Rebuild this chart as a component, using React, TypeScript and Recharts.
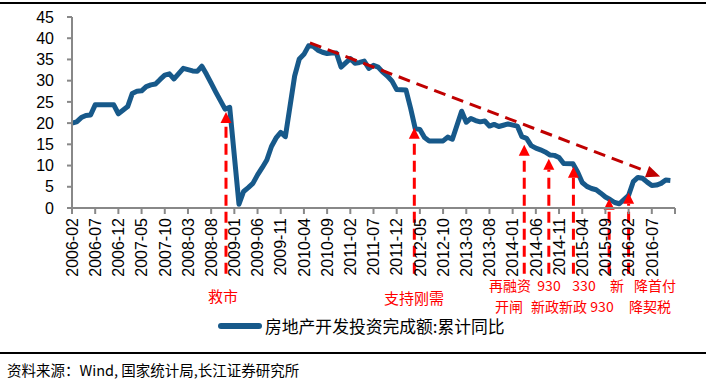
import React from "react";
import { LineChart, Line, XAxis, YAxis, ReferenceLine, Legend } from "recharts";

// monthly categories 2006-02 .. 2016-12 (index = position on the x axis)
const months: string[] = [];
for (let k = 0; k <= 130; k++) {
  const m = 1 + k;
  months.push(`${2006 + Math.floor(m / 12)}-${String((m % 12) + 1).padStart(2, "0")}`);
}

// 房地产开发投资完成额:累计同比 (%), January has no release -> null
const growth: (number | null)[] = [
  // 2006-02 .. 2006-12
  20.0, 20.3, 21.3, 21.8, 21.9, 24.3, 24.3, 24.3, 24.3, 24.3, 22.2,
  // 2007
  null, 23.9, 27.0, 27.5, 27.6, 28.6, 29.0, 29.2, 30.3, 31.3, 31.6, 30.4,
  // 2008
  null, 32.9, 32.6, 32.3, 32.2, 33.4, 31.5, 29.4, 27.3, 25.3, 23.3, 23.7,
  // 2009
  null, 0.9, 3.9, 4.8, 5.8, 7.8, 9.5, 11.3, 14.5, 16.5, 17.8, 16.8,
  // 2010
  null, 31.1, 35.1, 36.2, 38.2, 38.1, 37.2, 36.7, 36.4, 36.5, 36.5, 33.2,
  // 2011
  null, 35.2, 34.1, 34.3, 34.6, 32.9, 33.6, 33.2, 32.0, 31.1, 29.9, 27.9,
  // 2012
  null, 27.8, 23.5, 18.7, 18.5, 16.6, 15.8, 15.8, 15.8, 15.8, 16.7, 16.2,
  // 2013
  null, 22.8, 20.2, 21.1, 20.6, 20.3, 20.5, 19.3, 19.7, 19.2, 19.5, 19.8,
  // 2014
  null, 19.3, 16.8, 16.4, 14.7, 14.1, 13.7, 13.2, 12.5, 12.4, 11.9, 10.5,
  // 2015
  null, 10.4, 8.5, 6.0, 5.1, 4.6, 4.3, 3.5, 2.6, 2.0, 1.3, 1.0,
  // 2016-01 .. 2016-11
  null, 3.0, 6.2, 7.2, 7.0, 6.1, 5.3, 5.4, 5.8, 6.6, 6.5,
];

const xTicks = [0, 5, 10, 15, 20, 25, 30, 35, 40, 45, 50, 55, 60, 65, 70, 75, 80, 85, 90, 95, 100, 105, 110, 115, 120, 125, 130];
const yTicks = [0, 5, 10, 15, 20, 25, 30, 35, 40, 45];

// policy arrows: x index, value at arrow tip
const policyX = [33.2, 73.8, 97.5, 102.8, 108.1, 115.8, 120.0];
const policyTip = [22.6, 18.9, 14.9, 11.6, 9.7, 2.2, 3.6];

// downward trend arrow
const trendFrom = { x: 51.3, y: 38.9 };
const trendTo = { x: 126.8, y: 7.4 };

const notes = [
  { text: "救市", x: 223, y: 295, size: 15 },
  { text: "支持刚需", x: 414, y: 297, size: 15 },
  { text: "再融资", x: 510, y: 285, size: 14 },
  { text: "开闸", x: 509, y: 305.5, size: 14 },
  { text: "930", x: 549, y: 285, size: 14 },
  { text: "新政", x: 545, y: 305.5, size: 14 },
  { text: "330", x: 584, y: 285, size: 14 },
  { text: "新政", x: 573, y: 305.5, size: 14 },
  { text: "新", x: 617, y: 285, size: 14 },
  { text: "930", x: 602, y: 305.5, size: 14 },
  { text: "降首付", x: 655, y: 285, size: 14 },
  { text: "降契税", x: 650, y: 305.5, size: 14 },
];

const data = growth.map((v, i) => ({ i, v }));

const BLUE = "#17598A";

const arrow = (color: string, w: number, len: number, dash: string) => (props: any) => {
  const { x1, y1, x2, y2 } = props;
  const dx = x2 - x1;
  const dy = y2 - y1;
  const L = Math.hypot(dx, dy) || 1;
  const ux = dx / L;
  const uy = dy / L;
  const bx = x2 - ux * len;
  const by = y2 - uy * len;
  const px = (-uy * w) / 2;
  const py = (ux * w) / 2;
  return (
    <g>
      <line x1={x1} y1={y1} x2={bx} y2={by} stroke={color} strokeWidth={3} strokeDasharray={dash} />
      <polygon points={`${x2},${y2} ${bx + px},${by + py} ${bx - px},${by - py}`} fill={color} />
    </g>
  );
};

const XTick = ({ x, y, payload }: any) => (
  <text
    x={x}
    y={y}
    transform={`rotate(-90, ${x}, ${y})`}
    textAnchor="end"
    dy="0.36em"
    fontSize={16}
    fill="#000"
  >
    {payload.value < 130 ? months[payload.value] : ""}
  </text>
);

const LegendBox = () => (
  <div style={{ display: "flex", alignItems: "center", marginLeft: 218 }}>
    <div style={{ width: 44, height: 6, borderRadius: 3, background: BLUE, marginRight: 3 }} />
    <span style={{ fontSize: 16.8, color: "#000", fontFamily: '"Noto Sans CJK SC", sans-serif' }}>
      房地产开发投资完成额:累计同比
    </span>
  </div>
);

export default function App() {
  return (
    <div
      style={{
        position: "absolute",
        left: 0,
        top: 0,
        width: 710,
        height: 383,
        background: "#fff",
        fontFamily: '"Liberation Sans", Arial, sans-serif',
        overflow: "hidden",
      }}
    >
      <div style={{ position: "absolute", left: 0, top: 2, width: 706, height: 2, background: "#000" }} />
      <LineChart width={710} height={383} data={data} margin={{ top: 17, right: 35, bottom: 0, left: 0 }}>
        <XAxis
          dataKey="i"
          type="number"
          domain={[0, 130]}
          ticks={xTicks}
          interval={0}
          height={175}
          tick={<XTick />}
          tickSize={6}
          tickMargin={4}
          axisLine={{ stroke: "#888", strokeWidth: 2 }}
          tickLine={{ stroke: "#888", strokeWidth: 2 }}
        />
        <YAxis
          type="number"
          domain={[0, 45]}
          ticks={yTicks}
          interval={0}
          width={72}
          tickSize={5}
          tickMargin={13}
          tick={{ fontSize: 16, fill: "#000" }}
          axisLine={{ stroke: "#888", strokeWidth: 2 }}
          tickLine={{ stroke: "#888", strokeWidth: 2 }}
        />
        <Line
          dataKey="v"
          stroke={BLUE}
          strokeWidth={5}
          dot={false}
          connectNulls
          isAnimationActive={false}
          strokeLinejoin="round"
        />
        <ReferenceLine
          segment={[trendFrom, trendTo]}
          ifOverflow="visible"
          shape={arrow("#C00000", 12, 14, "12 7")}
        />
        {policyX.map((px, k) => (
          <ReferenceLine
            key={k}
            segment={[
              { x: px, y: -15.5 },
              { x: px, y: policyTip[k] },
            ]}
            ifOverflow="visible"
            shape={arrow("#FF0000", 11, 11, "11 6")}
          />
        ))}
        <Legend
          layout="vertical"
          align="center"
          verticalAlign="middle"
          wrapperStyle={{ position: "absolute", left: 0, top: 314, width: 710 }}
          content={<LegendBox />}
        />
      </LineChart>
      {notes.map((n, k) => (
        <span
          key={k}
          style={{
            position: "absolute",
            left: n.x,
            top: n.y,
            transform: "translate(-50%, -50%)",
            whiteSpace: "nowrap",
            color: "#FF0000",
            fontSize: n.size,
            lineHeight: 1,
            fontFamily: '"Noto Sans CJK SC", sans-serif',
          }}
        >
          {n.text}
        </span>
      ))}
      <div style={{ position: "absolute", left: 0, top: 352, width: 706, height: 2, background: "#000" }} />
      <div
        style={{
          position: "absolute",
          left: 7,
          top: 361,
          fontSize: 14.5,
          lineHeight: "18px",
          color: "#000",
          fontFamily: '"Noto Sans CJK SC", sans-serif',
          whiteSpace: "nowrap",
        }}
      >
        资料来源：Wind, 国家统计局,长江证券研究所
      </div>
    </div>
  );
}
